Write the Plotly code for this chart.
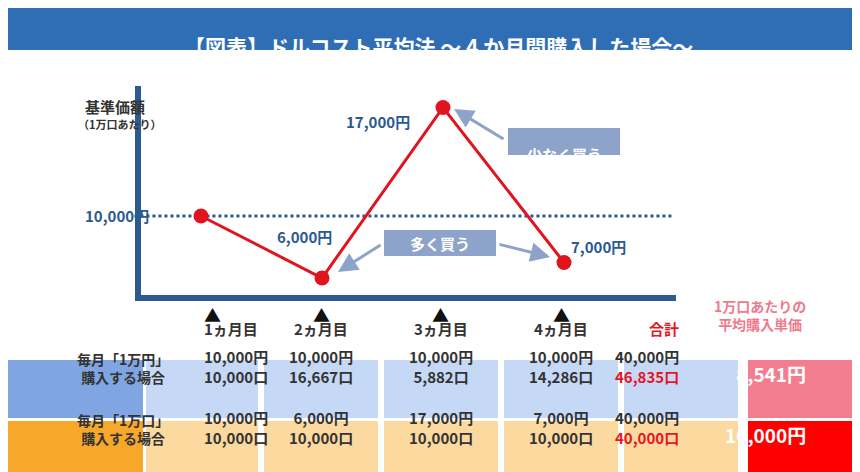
import plotly.graph_objects as go

W, H = 860, 472

# data
months = ["1ヵ月目", "2ヵ月目", "3ヵ月目", "4ヵ月目"]
month_idx = [1, 2, 3, 4]
prices = [10000, 6000, 17000, 7000]
price_labels = ["", "6,000円", "17,000円", "7,000円"]
base_price = 10000

row_labels = ["毎月「1万円」<br>購入する場合", "毎月「1万口」<br>購入する場合"]
row1_amount = ["10,000円", "10,000円", "10,000円", "10,000円", "40,000円"]
row1_units = ["10,000口", "16,667口", "5,882口", "14,286口", "46,835口"]
row2_amount = ["10,000円", "6,000円", "17,000円", "7,000円", "40,000円"]
row2_units = ["10,000口", "10,000口", "10,000口", "10,000口", "40,000口"]
avg_price = ["8,541円", "10,000円"]

NAVY = "#2b5a8e"
FONT = "Noto Sans CJK JP"


def px(x):
    return x / W


def py(y):
    return 1 - y / H


fig = go.Figure()
shapes, ann = [], []

# title bar
shapes.append(dict(type="rect", xref="paper", yref="paper", x0=0, x1=1, y0=py(42), y1=1,
                   fillcolor="#2f6db5", line_width=0))
ann.append(dict(x=0.5, y=py(21), text="<b>【図表】ドルコスト平均法 ～ 4 か月間購入した場合～</b>",
                font=dict(size=21, color="white")))

# axes L
shapes.append(dict(type="line", xref="paper", yref="paper", x0=px(130), x1=px(130), y0=py(78), y1=py(292),
                   line=dict(color=NAVY, width=6)))
shapes.append(dict(type="line", xref="paper", yref="paper", x0=px(127), x1=px(668), y0=py(290), y1=py(290),
                   line=dict(color=NAVY, width=6)))

# base line
fig.add_trace(go.Scatter(x=[0.45, 4.9], y=[base_price, base_price], mode="lines",
                         line=dict(color=NAVY, width=3, dash="dot"), hoverinfo="skip"))
fig.add_trace(go.Scatter(x=month_idx, y=prices, mode="lines+markers",
                         line=dict(color="#e0141e", width=3),
                         marker=dict(size=15, color="#e0141e"), hoverinfo="skip"))

ann.append(dict(x=px(75), y=py(86), text="<b>基準価額</b>", font=dict(size=15, color="#333")))
ann.append(dict(x=px(68), y=py(106), text="<b>（1万口あたり）</b>", font=dict(size=11, color="#333")))
ann.append(dict(x=px(75), y=py(208), text="<b>10,000円</b>", font=dict(size=15, color=NAVY)))
label_pos = [None, (296, 228), (370, 101), (620, 238)]
for lab, pos in zip(price_labels, label_pos):
    if pos:
        ann.append(dict(x=px(pos[0]), y=py(pos[1]), text="<b>%s</b>" % lab, font=dict(size=15, color=NAVY)))

# callout boxes
for (x0, y0, x1, y1, t) in [(500, 120, 612, 147, "少なく買う"), (376, 222, 488, 248, "多く買う")]:
    shapes.append(dict(type="rect", xref="paper", yref="paper", x0=px(x0), x1=px(x1), y0=py(y1), y1=py(y0),
                       fillcolor="#8ea3c9", line_width=0))
    ann.append(dict(x=px((x0 + x1) / 2), y=py((y0 + y1) / 2), text="<b>%s</b>" % t,
                    font=dict(size=15, color="white")))
for (tx, ty, fx, fy) in [(446, 101, 497, 132), (330, 264, 374, 236), (542, 249, 490, 236)]:
    ann.append(dict(x=px(tx), y=py(ty), ax=fx - tx, ay=fy - ty, axref="pixel", ayref="pixel",
                    showarrow=True, arrowhead=2, arrowsize=1.3, arrowwidth=3, arrowcolor="#8ea3c9", text=""))

# table header
col_x = [(138, 250), (256, 370), (376, 490), (496, 610), (616, 730)]
for (x0, x1), m in zip(col_x[:4], months):
    cx = px((x0 + x1) / 2)
    ann.append(dict(x=cx, y=py(306), text="▲", font=dict(size=17, color="#111")))
    ann.append(dict(x=cx, y=py(333), text="<b>%s</b>" % m, font=dict(size=15, color="#333")))
ann.append(dict(x=px(673), y=py(333), text="<b>合計</b>", font=dict(size=15, color="#e8141e")))
ann.append(dict(x=px(800), y=py(328), text="<b>1万口あたりの<br>平均購入単価</b>",
                font=dict(size=14, color="#f07a8c")))

# table rows
rows = [
    (352, 410, "#7fa5e2", "#c5d8f6", "#f27d8e", row1_amount, row1_units, avg_price[0]),
    (413, 470, "#f7a72a", "#fcd99f", "#ff0000", row2_amount, row2_units, avg_price[1]),
]
for r, (y0, y1, lc, cc, ec, amt, units, avg) in enumerate(rows):
    shapes.append(dict(type="rect", xref="paper", yref="paper", x0=0, x1=px(135), y0=py(y1), y1=py(y0),
                       fillcolor=lc, line_width=0))
    ann.append(dict(x=px(67), y=py((y0 + y1) / 2), text="<b>%s</b>" % row_labels[r],
                    font=dict(size=14, color="#333")))
    for i, (x0, x1) in enumerate(col_x):
        shapes.append(dict(type="rect", xref="paper", yref="paper", x0=px(x0), x1=px(x1), y0=py(y1), y1=py(y0),
                           fillcolor=cc, line_width=0))
        ucol = "#e8141e" if (i == 4) else "#333"
        ann.append(dict(x=px((x0 + x1) / 2), y=py((y0 + y1) / 2),
                        text="<b>%s<br><span style='color:%s'>%s</span></b>" % (amt[i], ucol, units[i]),
                        font=dict(size=15, color="#333")))
    shapes.append(dict(type="rect", xref="paper", yref="paper", x0=px(740), x1=1, y0=py(y1), y1=py(y0),
                       fillcolor=ec, line_width=0))
    ann.append(dict(x=px(800), y=py((y0 + y1) / 2), text="<b>%s</b>" % avg, font=dict(size=19, color="white")))

for a in ann:
    a.setdefault("xref", "paper")
    a.setdefault("yref", "paper")
    a.setdefault("showarrow", False)

# x pixel = 193 + (m-1)*121 ; y pixel = 363 - v*0.0155
fig.update_layout(
    width=W, height=H, margin=dict(l=0, r=0, t=0, b=0),
    paper_bgcolor="white", plot_bgcolor="white", showlegend=False,
    font=dict(family=FONT),
    xaxis=dict(range=[1 - 193 / 121, 1 + 667 / 121], visible=False, fixedrange=True),
    yaxis=dict(range=[(363 - 472) / 0.0155, 363 / 0.0155], visible=False, fixedrange=True),
    shapes=shapes, annotations=ann,
)
fig.write_html("out.html")
